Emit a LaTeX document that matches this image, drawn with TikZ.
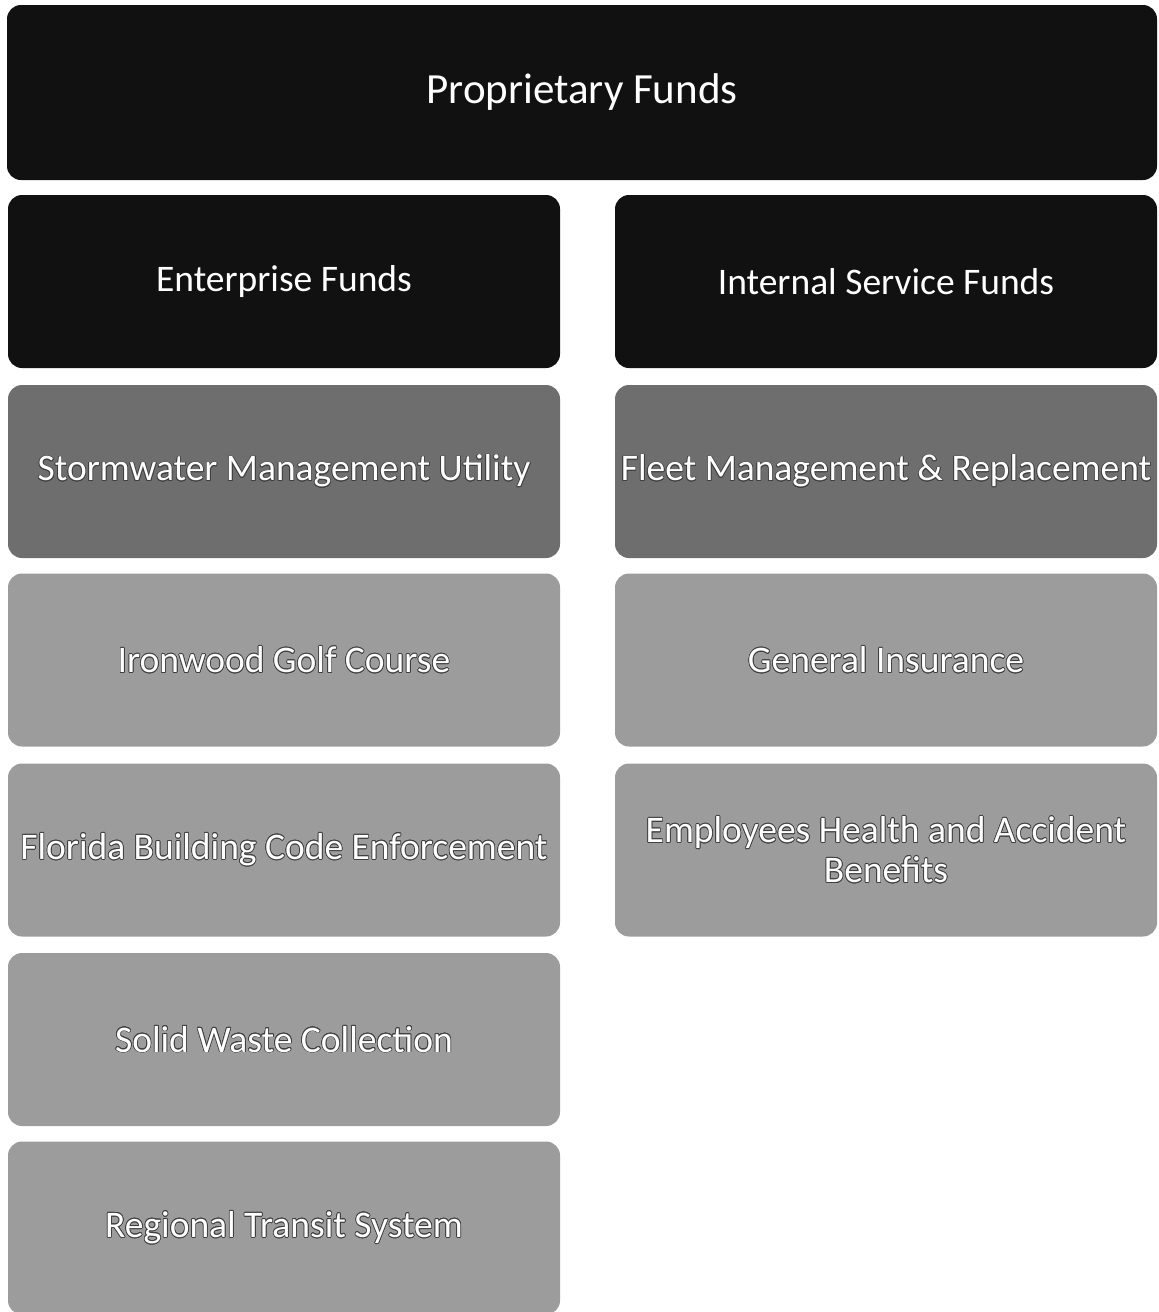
\documentclass[tikz,border=0pt]{standalone}
\usepackage{fontspec}
\setmainfont{Carlito}
\usepackage{contour}
\contourlength{0.7pt}
\definecolor{fundblack}{HTML}{111111}
\definecolor{funddark}{HTML}{6E6E6E}
\definecolor{fundgray}{HTML}{9C9C9C}
\newcommand{\edged}[1]{\contour{black!75}{#1}}

\begin{document}
\begin{tikzpicture}[x=1pt, y=-1pt,
  box/.style={rounded corners=14pt, text=white, align=center, inner sep=0pt,
    minimum height=173pt, font=\fontsize{37.5}{40}\selectfont},
  leftbox/.style={box, minimum width=552pt},
  rightbox/.style={box, minimum width=542pt}]
\useasboundingbox[fill=white] (0,0) rectangle (1159,1312);
\node[box, fill=fundblack, minimum width=1150pt, minimum height=175pt, font=\fontsize{43}{48}\selectfont] (prop) at (582, 92.5) {Proprietary Funds};
\node[leftbox, fill=fundblack] (ent) at (284, 281.5) {Enterprise Funds};
\node[rightbox, fill=fundblack] (isf) at (886, 281.5) {Internal Service Funds};
\node[leftbox, fill=funddark] (storm) at (284, 471.5) {\edged{Stormwater Management Utility}};
\node[rightbox, fill=funddark] (fleet) at (886, 471.5) {\edged{Fleet Management \& Replacement}};
\node[leftbox, fill=fundgray] (golf) at (284, 660) {\edged{Ironwood Golf Course}};
\node[rightbox, fill=fundgray] (ins) at (886, 660) {\edged{General Insurance}};
\node[leftbox, fill=fundgray] (code) at (284, 850) {\edged{Florida Building Code Enforcement}};
\node[rightbox, fill=fundgray] (health) at (886, 850) {\edged{Employees Health and Accident}\\\edged{Benefits}};
\node[leftbox, fill=fundgray] (waste) at (284, 1039.5) {\edged{Solid Waste Collection}};
\node[leftbox, fill=fundgray] (transit) at (284, 1228) {\edged{Regional Transit System}};
\end{tikzpicture}
\end{document}
